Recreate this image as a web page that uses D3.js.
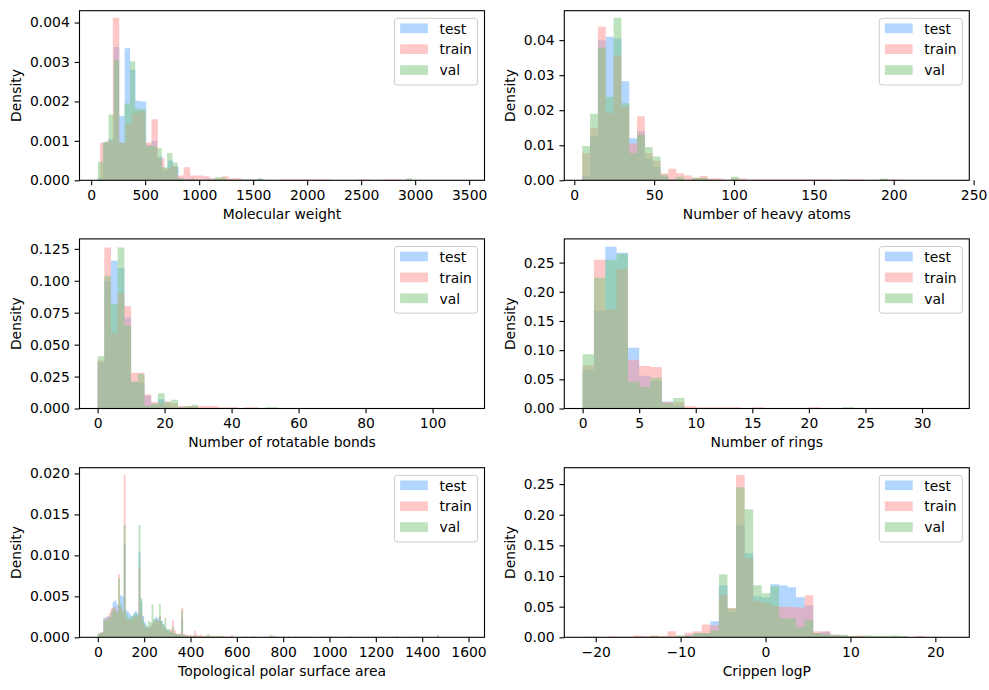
<!DOCTYPE html>
<html><head><meta charset="utf-8">
<script src="https://cdn.jsdelivr.net/npm/d3@7"></script>
<style>body{margin:0;background:#fff}svg{display:block}text{font-family:"DejaVu Sans",sans-serif}</style>
</head><body><svg id="c" width="989" height="690"></svg>
<script>
// ---------- DATA ----------
const seriesNames = ["test", "train", "val"];
const xLabels = ["Molecular weight", "Number of heavy atoms", "Number of rotatable bonds", "Number of rings", "Topological polar surface area", "Crippen logP"];
const xDomains = [[-108, 3642], [-6.25, 247.3], [-5.4, 115.5], [-1.62, 34.18], [-79, 1669], [-23.7, 24.0]];
const yMaxes = [0.0043, 0.0484, 0.1328, 0.2906, 0.0207, 0.2767];
const xTickVals = [[0,500,1000,1500,2000,2500,3000,3500],[0,50,100,150,200,250],[0,20,40,60,80,100],[0,5,10,15,20,25,30],[0,200,400,600,800,1000,1200,1400,1600],[-20,-10,0,10,20]];
const yTickVals = [[0,0.001,0.002,0.003,0.004],[0,0.01,0.02,0.03,0.04],[0,0.025,0.05,0.075,0.1,0.125],[0,0.05,0.1,0.15,0.2,0.25],[0,0.005,0.01,0.015,0.02],[0,0.05,0.1,0.15,0.2,0.25]];
const yTickFormats = [".3f", ".2f", ".3f", ".2f", ".3f", ".2f"];

// bins: start edge, bin width, densities
const mwTest = {start: 60, width: 50, values: [0.00005,0.00095,0.00105,0.00338,0.00163,0.00335,0.0028,0.00202,0.002,0.0009,0.001,0.0006,0.00025,0.0005,0.00035,0.00005,0.00003,0.00005,0.00002,0.00002,0.00005,0.00002,0.00002,0.00002,0.00002,0,0.00001,0.00002,0,0.00002,0.00002]};
const mwTrain = {start: 22, width: 59.6, values: [0,0.00095,0.001,0.00412,0.00095,0.00142,0.0017,0.00175,0.00096,0.00155,0.00055,0.0003,0.00035,0.00012,0.00033,0.00012,0.00012,0.0001,0.00005,0.00005,0.0001,0.00005,0.00005,0.00002,0.00002,0.00002,0.00001,0,0,0.00002,0.00002,0.00002,0.00002,0.00002,0.00002,0.00002,0.00002,0,0,0,0.00001,0.00002,0.00002,0,0,0.00002,0.00002,0.00002,0.00002,0]};
const mwVal = {start: 62, width: 49.3, values: [0.00047,0.00098,0.00167,0.00305,0.00095,0.00195,0.00302,0.00182,0.0018,0.00087,0.00087,0.00082,0.00033,0.00069,0.00045,0.00005,0.00002,0.00002,0.00002,0.00002,0.00001,0.00002,0.00008,0.00008,0.00002,0.00002,0.00002,0.00002,0.00002,0.00002,0.00005], tail: [[2921.4, 0.00005]]};

const haTest = {start: 5, width: 4.9, values: [0.0012,0.0125,0.040,0.041,0.0405,0.0283,0.012,0.014,0.0062,0.0038,0.001,0.0002,0,0,0.0002]};
const haTrain = {start: 5, width: 4.9, values: [0.0078,0.015,0.0438,0.0192,0.0356,0.021,0.0105,0.0183,0.0078,0.0055,0.002,0.0033,0.002,0.0014,0.0007,0.0012,0.0005,0.0005,0.0002,0.0005,0.0005,0.0002,0.0002,0.0002,0.0002,0.0002,0.0002,0.0002,0.0002,0.0002,0.0002,0.0002,0,0.0002,0.0002,0.0002,0,0,0.0002,0.0002,0.0002]};
const haVal = {start: 5, width: 4.9, values: [0.0098,0.019,0.0378,0.0238,0.0464,0.022,0.0078,0.013,0.0095,0.0068,0.0015,0.0002,0.001,0,0.0007,0.0007,0.0002,0,0,0.001,0,0,0,0,0,0,0,0,0,0,0,0,0,0.0002,0,0,0,0,0.0005]};

const rbTest = {start: 0, width: 2, values: [0.036,0.1,0.1156,0.11,0.071,0.021,0.02,0.0099,0.003,0.0073,0.002,0.001,0.001,0.001,0.001]};
const rbTrain = {start: 0, width: 2, values: [0.0375,0.126,0.059,0.09,0.080,0.028,0.028,0.011,0.005,0.004,0.0055,0.004,0.002,0.002,0.002,0.002,0.002,0.002,0.001,0.001,0.001,0,0.001,0.001]};
const rbVal = {start: 0, width: 2, values: [0.041,0.104,0.082,0.126,0.065,0.021,0.027,0.002,0.004,0.012,0.005,0.0068,0.001,0.002,0.003,0,0,0,0,0,0,0,0,0,0,0.001,0.001]};

const rgTest = {start: 0, width: 1, values: [0.066,0.168,0.277,0.267,0.104,0.056,0.047,0.012,0.005,0,0.001,0.001,0.001,0.001]};
const rgTrain = {start: 0, width: 1, values: [0.074,0.255,0.169,0.239,0.0835,0.073,0.071,0.011,0.011,0.004,0.002,0.002,0.002,0.002,0,0.002,0,0,0,0,0.002]};
const rgVal = {start: 0, width: 1, values: [0.093,0.224,0.255,0.265,0.046,0.037,0.0526,0.009,0.018,0,0,0,0.001,0,0,0,0,0,0,0,0,0,0,0.002]};

const tpTest = {start: 0, width: 8, values: [0.0003,0.0005,0.0006,0.0024,0.0023,0.0026,0.0025,0.0033,0.0043,0.0045,0.004,0.0039,0.0051,0.005,0.0114,0.0033,0.0031,0.0028,0.0026,0.0029,0.0032,0.003,0.0104,0.0044,0.0026,0.0018,0.0013,0.0012,0.0013,0.0015,0.0022,0.0025,0.0023,0.0025,0.002,0.0016,0.0012,0.0009,0.0008,0.0007,0.0006,0.0005,0.0004,0.0004,0.0003,0.0023,0.0002,0.0002,0.0001,0.0002,0.0001,0.0001,0.0002,0.0001,0.0001,0.0001,0.0001], tail: [[640,0.0001],[720,0.0001],[824,0.0001]]};
const tpTrain = {start: 0, width: 8, values: [0.0004,0.0005,0.0007,0.002,0.0025,0.0024,0.003,0.0035,0.0036,0.0038,0.0032,0.0077,0.0036,0.003,0.0198,0.0022,0.002,0.0022,0.002,0.0024,0.0026,0.0024,0.0086,0.0029,0.0015,0.0012,0.0011,0.0011,0.0013,0.0018,0.0019,0.0021,0.002,0.0026,0.0016,0.0012,0.0009,0.0008,0.0006,0.001,0.0021,0.0009,0.0005,0.0004,0.0005,0.0036,0.0004,0.0003,0.0003,0.0002,0.0003,0.0002,0.0008,0.0003,0.0002,0.0003,0.0002,0.0001,0.0002,0.0001,0.0001,0.0002,0.0001,0.0001,0.0001,0.0002,0.0001,0.0001,0.0001,0.0001,0.00005,0.0001,0.0003,0.00005,0.00005], tail: [[664,0.00015],[672,0.0001],[736,0.0002],[760,0.00015],[800,0.0001],[848,0.00015],[880,0.0001],[904,0.0001],[960,0.0001],[1088,0.00015],[1224,0.0001],[1368,0.0001]]};
const tpVal = {start: 0, width: 8, values: [0.0005,0.0006,0.0005,0.0022,0.002,0.0023,0.0024,0.003,0.0036,0.0034,0.003,0.0072,0.004,0.0033,0.0137,0.0028,0.0025,0.0023,0.0026,0.0027,0.003,0.0027,0.0137,0.0048,0.0022,0.0016,0.0014,0.002,0.0018,0.004,0.0022,0.0023,0.002,0.0041,0.002,0.0016,0.0024,0.001,0.001,0.0007,0.0013,0.0005,0.0004,0.0003,0.0003,0.0033,0.0003,0.0002,0.0002,0.0002,0.0001,0.0002,0.0002,0.0001,0.0001,0.0001,0.0001,0.0001,0.0001,0.0004,0.0002,0.0001,0.0001,0.0001,0.0001,0.0001,0.0001,0.0002], tail: [[744,0.0003],[752,0.0002],[1008,0.0001],[1288,0.00015],[1464,0.0003]]};

const lpTest = {start: -21.65, width: 1.01, values: [0,0,0,0,0,0,0,0,0,0,0,0.001,0.004,0.006,0.007,0.026,0.0844,0.041,0.183,0.137,0.067,0.065,0.0866,0.085,0.0817,0.0654,0.0523,0.007,0.009,0.003,0.002,0.001]};
const lpTrain = {start: -21.65, width: 1.01, values: [0,0.0015,0,0.0015,0,0.001,0.003,0.002,0.003,0.002,0.0098,0.002,0.0076,0.0098,0.0207,0.0196,0.0686,0.048,0.2647,0.129,0.059,0.056,0.051,0.0496,0.0496,0.0485,0.0686,0.01,0.01,0.004,0.003,0.002,0.003,0.001,0.001,0.001,0,0.001,0,0.002]};
const lpVal = {start: -21.65, width: 1.01, values: [0,0,0,0,0.001,0,0,0,0.002,0,0.001,0.003,0.002,0.007,0.007,0.011,0.103,0.047,0.245,0.209,0.085,0.072,0.0833,0.0316,0.0305,0.0163,0.0278,0.007,0.005,0.004,0.004,0.002,0.002,0.003,0.002,0.002,0.003,0.002]};

const panelSeries = [
  [mwTest, mwTrain, mwVal],
  [haTest, haTrain, haVal],
  [rbTest, rbTrain, rbVal],
  [rgTest, rgTrain, rgVal],
  [tpTest, tpTrain, tpVal],
  [lpTest, lpTrain, lpVal]
];

// ---------- STYLE / LAYOUT ----------
const colors = ["rgb(103,173,255)", "rgb(255,145,145)", "rgb(125,197,125)"];
const alpha = 0.5;
const FS = 13.9;
const colX = [79.5, 564.3], axW = 405;
const rowY = [10.7, 238.9, 467.7], axH = 169.6;

const svg = d3.select("#c");

panelSeries.forEach((series, p) => {
  const x0 = colX[p % 2], y0 = rowY[Math.floor(p / 2)];
  const g = svg.append("g").attr("transform", `translate(${x0},${y0})`);
  const xs = d3.scaleLinear().domain(xDomains[p]).range([0, axW]);
  const ys = d3.scaleLinear().domain([0, yMaxes[p]]).range([axH, 0]);

  const cid = "clip" + p;
  g.append("clipPath").attr("id", cid).append("rect").attr("width", axW).attr("height", axH);
  const plot = g.append("g").attr("clip-path", `url(#${cid})`);

  const area = d3.area().x(d => xs(d[0])).y0(ys(0)).y1(d => ys(d[1]));

  series.forEach((s, i) => {
    const pts = [];
    s.values.forEach((v, k) => {
      const a = s.start + k * s.width, b = a + s.width;
      pts.push([a, v], [b, v]);
    });
    const end = s.start + s.values.length * s.width;
    pts.push([end, 0]);
    (s.tail || []).forEach(([a, v]) => {
      pts.push([a, 0], [a, v], [a + s.width, v], [a + s.width, 0]);
    });
    pts.unshift([s.start, 0]);
    plot.append("path").attr("d", area(pts))
      .attr("fill", colors[i]).attr("fill-opacity", alpha);
  });

  // axes
  const xa = d3.axisBottom(xs).tickValues(xTickVals[p]).tickSize(4.86).tickPadding(4.86).tickFormat(d3.format("d"));
  const gx = g.append("g").attr("transform", `translate(0,${axH})`).call(xa);
  const ya = d3.axisLeft(ys).tickValues(yTickVals[p]).tickSize(4.86).tickPadding(4.86).tickFormat(d3.format(yTickFormats[p]));
  const gy = g.append("g").call(ya);
  [gx, gy].forEach(ax => {
    ax.select(".domain").remove();
    ax.selectAll("line").attr("stroke", "#000").attr("stroke-width", 1.1);
    ax.selectAll("text").attr("font-size", FS).attr("fill", "#000").attr("font-family", "DejaVu Sans");
  });

  // spines
  g.append("rect").attr("width", axW).attr("height", axH).attr("fill", "none")
    .attr("stroke", "#000").attr("stroke-width", 1.1);

  // labels
  g.append("text").attr("x", axW / 2).attr("y", axH + 38.5).attr("text-anchor", "middle")
    .attr("font-size", FS).text(xLabels[p]);
  let maxW = 0;
  gy.selectAll("text").each(function () { maxW = Math.max(maxW, this.getComputedTextLength()); });
  const lx = -(9.72 + maxW + 8.9);
  g.append("text").attr("transform", `translate(${lx},${axH / 2}) rotate(-90)`)
    .attr("text-anchor", "middle").attr("font-size", FS).text("Density");

  // legend
  const lw = 83, lh = 66.7;
  const lg = g.append("g").attr("transform", `translate(${axW - 7 - lw},7.6)`);
  lg.append("rect").attr("width", lw).attr("height", lh).attr("rx", 2.8)
    .attr("fill", "#fff").attr("fill-opacity", 0.8).attr("stroke", "#cccccc").attr("stroke-width", 1);
  seriesNames.forEach((nm, i) => {
    const cy = 10 + i * 20.9;
    lg.append("rect").attr("x", 5.6).attr("y", cy - 4.85).attr("width", 27.8).attr("height", 9.7)
      .attr("fill", colors[i]).attr("fill-opacity", alpha);
    lg.append("text").attr("x", 45).attr("y", cy + 5.3).attr("font-size", FS).text(nm);
  });
});
</script></body></html>
